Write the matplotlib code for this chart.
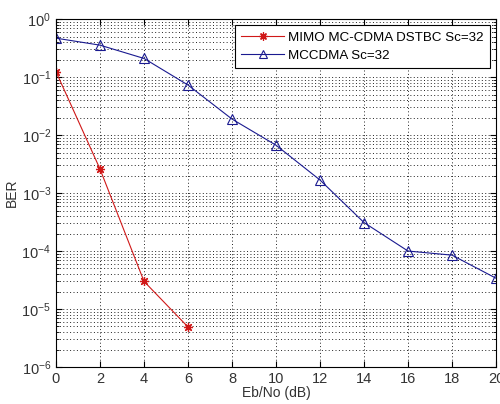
import numpy as np
import matplotlib
matplotlib.use('Agg')
import matplotlib.pyplot as plt
from matplotlib.ticker import LogLocator, FixedLocator

plt.rcParams['font.family'] = ['Liberation Sans', 'DejaVu Sans']
plt.rcParams['mathtext.fontset'] = 'custom'
plt.rcParams['mathtext.rm'] = 'Liberation Sans'

# data
ebno_mimo = [0, 2, 4, 6]
ber_mimo = [0.124, 0.0026, 3.0e-5, 4.9e-6]
ebno_mc = [0, 2, 4, 6, 8, 10, 12, 14, 16, 18, 20]
ber_mc = [0.47, 0.356, 0.21, 0.073, 0.0189, 0.0067, 0.00168, 3.1e-4, 1.0e-4, 8.5e-5, 3.4e-5]

fig = plt.figure(figsize=(5.0, 4.04), dpi=100)
ax = fig.add_axes([0.112, 0.0916, 0.88, 0.861])

ax.semilogy(ebno_mimo, ber_mimo, color='#d01818', lw=0.8, marker=(8, 2, 0), ms=6.5,
            mew=0.9, label='MIMO MC-CDMA DSTBC Sc=32')
ax.semilogy(ebno_mc, ber_mc, color='#1a1a90', lw=0.8, marker='^', ms=7,
            mfc='none', mew=0.8, label='MCCDMA Sc=32')

ax.set_xlim(0, 20)
ax.set_ylim(1e-6, 1)
ax.xaxis.set_major_locator(FixedLocator(np.arange(0, 21, 2)))
ax.yaxis.set_major_locator(LogLocator(base=10, numticks=10))
ax.yaxis.set_minor_locator(LogLocator(base=10, subs=np.arange(2, 10), numticks=20))

ax.grid(True, which='major', ls=(0, (1, 2.5)), color='#222222', lw=0.7)
ax.grid(True, which='minor', axis='y', ls=(0, (1, 2.5)), color='#222222', lw=0.7)
ax.tick_params(which='both', direction='in', top=True, right=True, labelsize=10.5,
               labelcolor='#333333')
ax.tick_params(which='major', length=4)
ax.tick_params(which='minor', length=2)

ax.set_xlabel('Eb/No (dB)', fontsize=10, labelpad=0, color='#333333')
ax.set_ylabel('BER', fontsize=10, labelpad=2, color='#333333')

leg = ax.legend(loc='upper right', fontsize=9.6, fancybox=False, framealpha=1,
                edgecolor='k', borderaxespad=0.45, handlelength=3.2,
                handletextpad=0.3, borderpad=0.5, labelspacing=0.4,
                markerscale=0.9)
leg.get_frame().set_linewidth(0.8)

plt.savefig('out.png', dpi=100)
